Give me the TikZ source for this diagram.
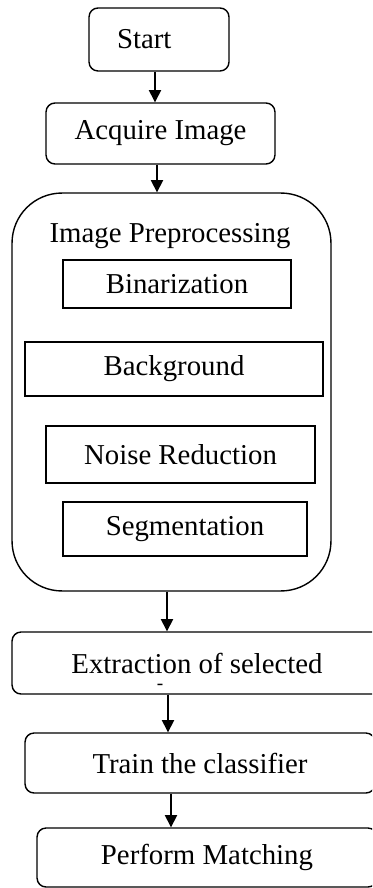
\documentclass[tikz,border=0pt]{standalone}
\usepackage{fontspec}
\setmainfont{Liberation Serif}
\usetikzlibrary{arrows.meta}

\begin{document}
\begin{tikzpicture}[
  x=0.02cm, y=-0.02cm,
  every node/.style={font=\fontsize{16.4}{19}\selectfont, inner sep=0pt},
  rbox/.style={draw, line width=0.8pt, rounded corners=0.18cm},
  sbox/.style={draw, line width=0.8pt},
  arr/.style={line width=0.8pt, -{Triangle[length=7pt, width=7pt]}},
]
\useasboundingbox (0,0) rectangle (372,888);
\clip (0,0) rectangle (372,888);

\node [rbox, minimum height=1.26cm, inner xsep=0.56cm, text width=1.68cm, align=left] (start) at (159,39.5) {Start};
\node [rbox, minimum width=4.58cm, minimum height=1.22cm] (acq) at (160.5,133.5) {Acquire Image};

\node [draw, line width=0.8pt, rounded corners=1cm, minimum width=6.38cm, minimum height=7.96cm] (prep) at (171.5,392) {};
\node (preptitle) at (170,236) {Image Preprocessing};
\node [sbox, minimum width=4.56cm, minimum height=0.96cm] (bin) at (177,284) {Binarization};
\node [sbox, minimum width=5.96cm, minimum height=1.08cm] (bg) at (174,369) {Background};
\node [sbox, minimum width=5.38cm, minimum height=1.14cm] (noise) at (180.5,454.5) {Noise Reduction};
\node [sbox, minimum width=4.88cm, minimum height=1.08cm] (seg) at (185,529) {Segmentation};

\node [rbox, minimum width=7.4cm, minimum height=1.24cm] (extr) at (197,663) {Extraction of selected};
\node [font=\fontsize{11}{12}\selectfont] (extrmark) at (160,687) {-};
\node [rbox, minimum width=7.0cm, minimum height=1.2cm] (train) at (200,763) {Train the classifier};
\node [rbox, minimum width=6.8cm, minimum height=1.18cm] (perf) at (207,857.5) {Perform Matching};

\draw [arr] ([xshift=-0.08cm]start.south) -- ([xshift=-0.08cm]start.south |- acq.north);
\draw [arr] ([xshift=-0.07cm]acq.south) -- ([xshift=-0.07cm]acq.south |- prep.north);
\draw [arr] ([xshift=-0.09cm]prep.south) -- ([xshift=-0.09cm]prep.south |- extr.north);
\draw [arr] ([xshift=-0.58cm]extr.south) -- ([xshift=-0.58cm]extr.south |- train.north);
\draw [arr] ([xshift=-0.58cm]train.south) -- ([xshift=-0.58cm]train.south |- perf.north);

\end{tikzpicture}
\end{document}
